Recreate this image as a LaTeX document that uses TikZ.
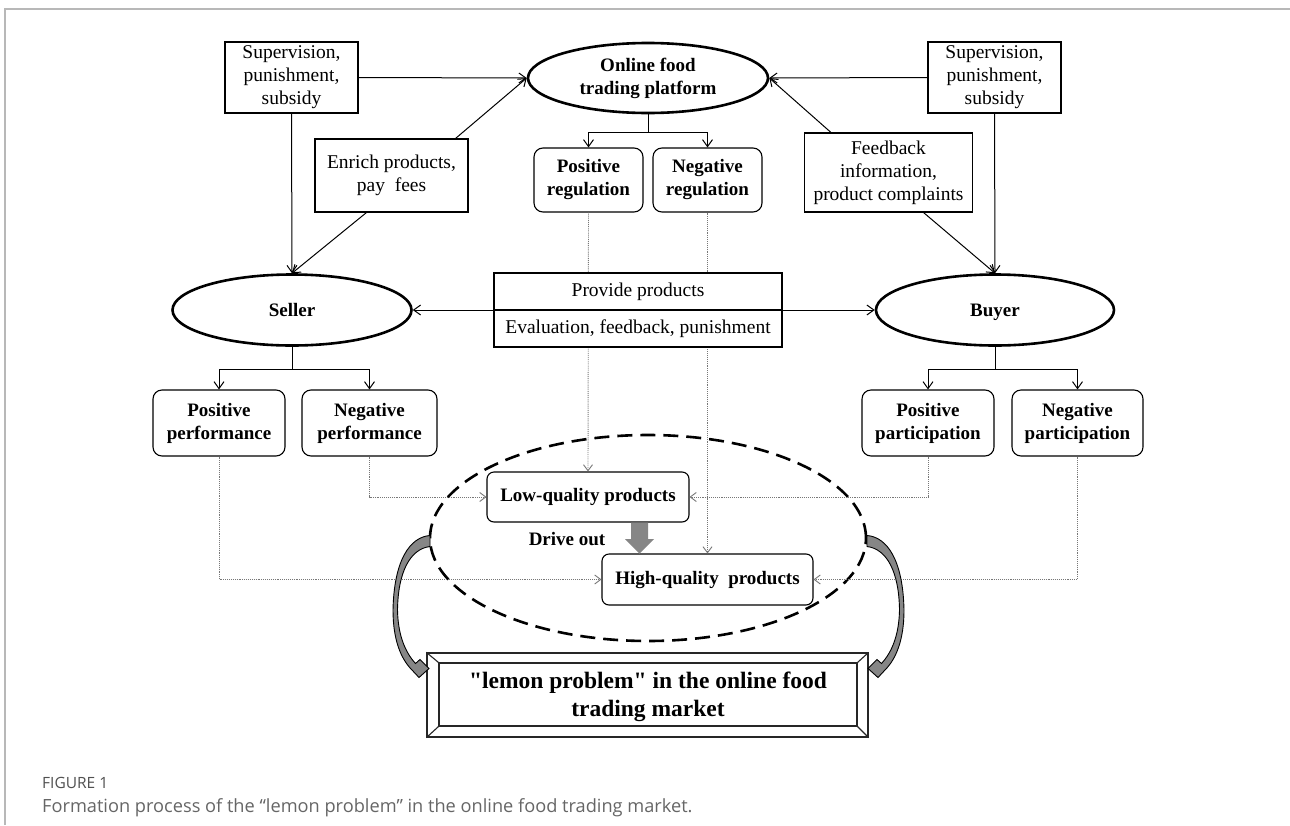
\documentclass[tikz,border=0pt]{standalone}
\usepackage{fontspec}
\setmainfont{Liberation Serif}
\newfontfamily\capfont{Open Sans}
\usetikzlibrary{arrows.meta,shapes.geometric,calc}
\definecolor{framegray}{HTML}{B8B8B8}
\definecolor{fatgray}{HTML}{868686}
\definecolor{dotgray}{HTML}{777777}
\definecolor{captxt}{HTML}{505050}
\definecolor{capbody}{HTML}{666666}
\tikzset{
  conn/.style={draw=black, line width=1pt, -{Straight Barb[length=7pt,width=10pt]}},
  dconn/.style={draw=black, line width=1pt, {Straight Barb[length=7pt,width=10pt]}-{Straight Barb[length=7pt,width=10pt]}},
  plainline/.style={draw=black, line width=1pt},
  dotconn/.style={draw=dotgray, line width=0.9pt, densely dotted, -{Straight Barb[length=6pt,width=9pt]}},
  plainbox/.style={draw=black, line width=1.1pt, rectangle, align=center, inner sep=0pt, fill=white,
    font=\fontsize{19.5}{23}\selectfont},
  roundbox/.style={draw=black, line width=1.1pt, rectangle, rounded corners=9pt, align=center, inner sep=0pt, fill=white,
    font=\bfseries\fontsize{19}{23}\selectfont},
  actor/.style={draw=black, line width=2.6pt, ellipse, inner sep=0pt, align=center, fill=white,
    font=\bfseries\fontsize{19}{23}\selectfont},
  bevel/.style={draw=black!85, line width=1.2pt, rectangle, inner sep=0pt, align=center},
}
\newcommand\lemonarc{%
  \filldraw[fill=fatgray, draw=black, line width=0.9pt]
    (430,535.5) .. controls (410,537) and (394,560) .. (393,610)
    .. controls (393,640) and (401,659) .. (412,670)
    -- (419,677.5) -- (429,668.5) -- (420,659.5) -- (415.5,663.5)
    .. controls (405,652) and (398,635) .. (397.5,610)
    .. controls (398,572) and (410,549) .. (430,546.5) -- cycle;
}
\begin{document}
\begin{tikzpicture}[x=1pt,y=-1pt]
\useasboundingbox (0,0) rectangle (1290,825);
\fill[white] (0,0) rectangle (1290,825);
% frame
\draw[framegray, line width=1.3pt] (5,825) -- (5,9) -- (1290,9);

% dashed ellipse
\node[draw=black, line width=2.6pt, dash pattern=on 15pt off 8pt, ellipse, minimum width=436, minimum height=206, inner sep=0pt] (dashell) at (648,538) {};

% top level
\node[plainbox, minimum width=133, minimum height=71] (sup1) at (291.5,77.5) {Supervision,\\punishment,\\subsidy};
\node[actor, minimum width=240, minimum height=70] (plat) at (648,78) {Online food\\trading platform};
\node[plainbox, minimum width=133, minimum height=71] (sup2) at (994.5,77.5) {Supervision,\\punishment,\\subsidy};
\node[plainbox, minimum width=153, minimum height=73] (enrich) at (391.5,175.5) {Enrich products,\\pay~~fees};
\node[plainbox, minimum width=168, minimum height=79] (feed) at (888.5,172.5) {Feedback\\information,\\product complaints};
\node[roundbox, minimum width=109, minimum height=64] (posreg) at (588.5,180) {Positive\\regulation};
\node[roundbox, minimum width=109, minimum height=64] (negreg) at (707.5,180) {Negative\\regulation};

% actors
\node[actor, minimum width=239, minimum height=71, text height=13pt, text depth=0pt] (seller) at (292,310) {Seller};
\node[actor, minimum width=238, minimum height=71, text height=13pt, text depth=0pt] (buyer) at (995,310) {Buyer};

% performance / participation
\node[roundbox, minimum width=132, minimum height=66] (posperf) at (219,423) {Positive\\performance};
\node[roundbox, minimum width=135, minimum height=66] (negperf) at (369.5,423) {Negative\\performance};
\node[roundbox, minimum width=132, minimum height=66] (pospart) at (928,423) {Positive\\participation};
\node[roundbox, minimum width=131, minimum height=66] (negpart) at (1077.5,423) {Negative\\participation};

% products
\node[roundbox, rounded corners=7pt, minimum width=202, minimum height=50] (low) at (588,497) {Low-quality products};
\node[roundbox, rounded corners=7pt, minimum width=211, minimum height=51] (high) at (707.5,579.5) {High-quality~~products};

% dotted connectors
\draw[dotconn] (posreg.south) -- (low.north);
\draw[dotconn] (negreg.south) -- (high.north);
\draw[dotconn] (negperf.south) |- (low.west);
\draw[dotconn] (posperf.south) |- (high.west);
\draw[dotconn] (pospart.south) |- (low.east);
\draw[dotconn] (negpart.south) |- (high.east);

% centre box
\node[plainbox, minimum width=288, minimum height=37] (midtop) at (638,291.5) {Provide products};
\node[plainbox, minimum width=288, minimum height=37] (midbot) at (638,328.5) {Evaluation, feedback, punishment};
\draw[dconn] (seller.east) -- (buyer.west);

% solid connectors
\draw[conn] (sup1.east) -- (plat.west);
\draw[conn] (sup2.west) -- (plat.east);
\draw[conn] ($(enrich.north east)+(-13,0)$) -- (plat.west);
\draw[conn] ($(enrich.south west)+(52,0)$) -- (seller.north);
\draw[conn] (sup1.south) -- (seller.north);
\draw[conn] ($(feed.north west)+(27,0)$) -- (plat.east);
\draw[conn] ($(feed.south east)+(-49.5,0)$) -- (buyer.north);
\draw[conn] (sup2.south) -- (buyer.north);

% trees
\coordinate (pj) at ($(plat.south)+(0,18)$);
\draw[plainline] (plat.south) -- (pj);
\draw[conn] (pj) -| (posreg.north);
\draw[conn] (pj) -| (negreg.north);
\coordinate (sj) at ($(seller.south)+(0,23)$);
\draw[plainline] (seller.south) -- (sj);
\draw[conn] (sj) -| (posperf.north);
\draw[conn] (sj) -| (negperf.north);
\coordinate (bj) at ($(buyer.south)+(0,23)$);
\draw[plainline] (buyer.south) -- (bj);
\draw[conn] (bj) -| (pospart.north);
\draw[conn] (bj) -| (negpart.north);

% drive out
\fill[fatgray] (631,522.5) -- (648,522.5) -- (648,539) -- (654,539) -- (639.5,553.5) -- (625,539) -- (631,539) -- cycle;
\node[font=\bfseries\fontsize{19}{23}\selectfont] (drive) at (567,539) {Drive out};

% lemon box
\node[bevel, minimum width=441, minimum height=84] (lemon) at (647.5,695) {};
\node[bevel, minimum width=418, minimum height=63] (lemoni) at (648,694.5) {};
\node[font=\bfseries\fontsize{23.5}{28}\selectfont, align=center, inner sep=0pt] (lemont) at (648,697) {\textquotedbl lemon problem\textquotedbl{} in the online food\\trading market};
\draw[black!85, line width=1.1pt] (lemon.north west) -- (lemoni.north west);
\draw[black!85, line width=1.1pt] (lemon.north east) -- (lemoni.north east);
\draw[black!85, line width=1.1pt] (lemon.south west) -- (lemoni.south west);
\draw[black!85, line width=1.1pt] (lemon.south east) -- (lemoni.south east);

% curved arrows
\lemonarc
\begin{scope}[xshift=1297pt, xscale=-1]
\lemonarc
\end{scope}

% caption
\node[anchor=west, inner sep=0pt, font=\capfont\fontsize{15.5}{18}\selectfont, text=captxt] (figlbl) at (42,783) {FIGURE 1};
\node[anchor=west, inner sep=0pt, font=\capfont\fontsize{18.2}{22}\selectfont, text=capbody] (cap) at (42,808) {Formation process of the “lemon problem” in the online food trading market.};
\end{tikzpicture}
\end{document}
